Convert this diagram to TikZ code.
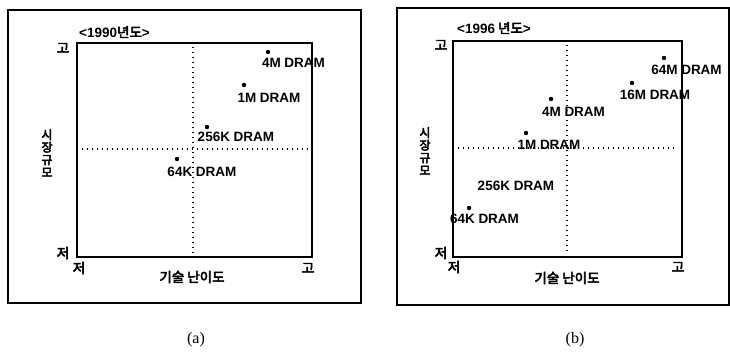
\documentclass[tikz,border=0pt]{standalone}
\usepackage{fontspec}
\setmainfont{Liberation Serif}
\newfontfamily\lab{Liberation Sans}
\newfontfamily\kr{Noto Sans CJK KR}[AutoFakeBold=4]
\begin{document}
\begin{tikzpicture}[x=1pt,y=-1pt,
  frame/.style={draw=black,line width=1.2pt},
  plotbox/.style={draw=black,line width=1.7pt},
  grid/.style={line width=1.5pt,dash pattern=on 1.4pt off 3.6pt},
  pt/.style={circle,fill=black,inner sep=0pt,minimum size=4.4pt},
  lbl/.style={font=\lab\bfseries\fontsize{13.5}{14}\selectfont,inner sep=0pt,text depth=0pt},
  krl/.style={font=\kr\bfseries\fontsize{13.5}{14}\selectfont,inner sep=0pt},
  vert/.style={font=\kr\bfseries\fontsize{12}{12.6}\selectfont,inner sep=0pt,align=center},
  captext/.style={font=\fontsize{16}{17}\selectfont,inner sep=0pt}]
\useasboundingbox (0,0) rectangle (730,354);
\fill[white] (0,0) rectangle (730,354);

% ---------- panel (a) ----------
\draw[frame] (8,10) rectangle (361,303);
\draw[plotbox] (77,43) rectangle (312,257);
\coordinate (av1) at (193,47); \coordinate (av2) at (193,253);
\coordinate (ah1) at (82,149);  \coordinate (ah2) at (308,149);
\draw[grid] (av1) -- (av2);
\draw[grid] (ah1) -- (ah2);
\node[krl,anchor=west] (atitle) at (79,32) {{\lab\bfseries <1990}년도{\lab\bfseries >}};
\node[krl] (ahi) at (63,48) {고};
\node[krl] (alo) at (63,253) {저};
\node[krl] (axlo) at (79,268) {저};
\node[krl] (axhi) at (308,268) {고};
\node[krl] (axl) at (192,277) {기술 난이도};
\node[vert] (ayl) at (47,153) {시\\장\\규\\모};
\node[pt] (a4) at (268,52) {};
\node[lbl] (a4l) at (293.5,63) {4M DRAM};
\node[pt] (a1) at (244,85) {};
\node[lbl] (a1l) at (269,98) {1M DRAM};
\node[pt] (a256) at (207,127) {};
\node[lbl] (a256l) at (236,137) {256K DRAM};
\node[pt] (a64) at (177,159) {};
\node[lbl] (a64l) at (202,172) {64K DRAM};
\node[captext] (capa) at (196,340) {(a)};

% ---------- panel (b) ----------
\draw[frame] (397,8) rectangle (729,305);
\draw[plotbox] (453,41) rectangle (682,257);
\coordinate (bv1) at (567,45); \coordinate (bv2) at (567,252);
\coordinate (bh1) at (458,148); \coordinate (bh2) at (678,148);
\draw[grid] (bv1) -- (bv2);
\draw[grid] (bh1) -- (bh2);
\node[krl,anchor=west] (btitle) at (457,28) {{\lab\bfseries <1996} 년도{\lab\bfseries >}};
\node[krl] (bhi) at (441,45) {고};
\node[krl] (blo) at (441,253) {저};
\node[krl] (bxlo) at (454,267) {저};
\node[krl] (bxhi) at (678,267) {고};
\node[krl] (bxl) at (567,278) {기술 난이도};
\node[vert] (byl) at (425,151) {시\\장\\규\\모};
\node[pt] (b64m) at (664,58) {};
\node[lbl] (b64ml) at (686.5,70) {64M DRAM};
\node[pt] (b16) at (632,83) {};
\node[lbl] (b16l) at (655,95) {16M DRAM};
\node[pt] (b4) at (551,99) {};
\node[lbl] (b4l) at (573.5,112) {4M DRAM};
\node[pt] (b1) at (526,133) {};
\node[lbl] (b1l) at (549,145) {1M DRAM};
\node[lbl] (b256l) at (516,186) {256K DRAM};
\node[pt] (b64) at (469,208) {};
\node[lbl] (b64l) at (484.5,219) {64K DRAM};
\node[captext] (capb) at (575,340) {(b)};
\end{tikzpicture}
\end{document}
